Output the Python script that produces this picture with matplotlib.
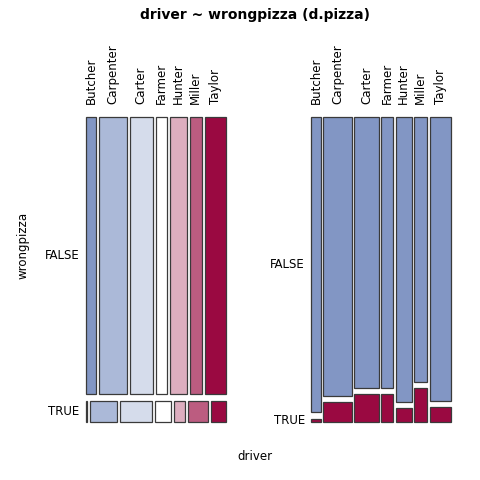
#!/usr/bin/env python3
import numpy as np
import matplotlib
matplotlib.use("Agg")
from matplotlib import pyplot as plt
from matplotlib.patches import Rectangle

drivers = ["Butcher", "Carpenter", "Carter", "Farmer", "Hunter", "Miller", "Taylor"]
levels = ["FALSE", "TRUE"]
n_false = [95, 254, 212, 106, 149, 111, 194]
n_true = [1, 18, 22, 11, 7, 14, 10]

driver_cols = ["#8296C4", "#ABB9D8", "#D5DCEB", "#FFFFFF", "#DDAEBF", "#BC5C80", "#9A0941"]
level_cols = ["#8296C4", "#9A0941"]
EDGE = "#3a3a3a"


def px_axes(fig, x0, y0, x1, y1):
    # pixel box (top-left origin) -> figure fraction axes
    W, H = fig.bbox.width, fig.bbox.height
    ax = fig.add_axes([x0 / W, 1 - y1 / H, (x1 - x0) / W, (y1 - y0) / H])
    ax.set_xlim(0, 1)
    ax.set_ylim(0, 1)
    ax.axis("off")
    return ax


def tile(ax, x, y, w, h, col):
    ax.add_patch(Rectangle((x, y), w, h, facecolor=col, edgecolor=EDGE, lw=0.9, clip_on=False))


def main():
    tab = np.array([n_false, n_true])  # rows = wrongpizza, cols = driver
    fig = plt.figure(figsize=(4.8, 4.8), dpi=100)
    fs = 8.5

    # left: rows by wrongpizza, then drivers within each row
    ax = px_axes(fig, 85.7, 117, 226, 421.7)
    gx, gy = 0.021, 0.023
    row_tot = tab.sum(axis=1)
    hts = (1 - gy) * row_tot / row_tot.sum()
    ytop = 1.0
    for i, lev in enumerate(levels):
        y0 = ytop - hts[i]
        widths = (1 - gx * (len(drivers) - 1)) * tab[i] / row_tot[i]
        x = 0.0
        for j in range(len(drivers)):
            tile(ax, x, y0, widths[j], hts[i], driver_cols[j])
            if i == 0:
                ax.annotate(drivers[j], (x + widths[j] / 2, 1), xycoords=("data", "axes fraction"),
                            xytext=(0, 13), textcoords="offset pixels", rotation=90,
                            ha="center", va="bottom", fontsize=fs)
            x += widths[j] + gx
        ax.annotate(lev, (0, y0 + hts[i] / 2), xytext=(-6, 0), textcoords="offset pixels",
                    ha="right", va="center", fontsize=fs)
        ytop = y0 - gy

    # right: spine plot, drivers as columns, wrongpizza stacked
    ax2 = px_axes(fig, 311, 117, 451, 421.7)
    gx, gy = 0.0167, 0.02
    col_tot = tab.sum(axis=0)
    widths = (1 - gx * (len(drivers) - 1)) * col_tot / col_tot.sum()
    x = 0.0
    for j in range(len(drivers)):
        hts = (1 - gy) * tab[:, j] / col_tot[j]
        ytop = 1.0
        for i in range(len(levels)):
            y0 = ytop - hts[i]
            tile(ax2, x, y0, widths[j], hts[i], level_cols[i])
            if j == 0:
                ax2.annotate(levels[i], (0, y0 + hts[i] / 2), xytext=(-6, 0),
                             textcoords="offset pixels", ha="right", va="center", fontsize=fs)
            ytop = y0 - gy
        ax2.annotate(drivers[j], (x + widths[j] / 2, 1), xycoords=("data", "axes fraction"),
                     xytext=(0, 13), textcoords="offset pixels", rotation=90,
                     ha="center", va="bottom", fontsize=fs)
        x += widths[j] + gx

    fig.text(255 / 480, 1 - 15 / 480, "driver ~ wrongpizza (d.pizza)", ha="center", va="center",
             fontsize=10, fontweight="bold")
    fig.text(255 / 480, 1 - 456 / 480, "driver", ha="center", va="center", fontsize=fs)
    fig.text(23 / 480, 1 - 245 / 480, "wrongpizza", ha="center", va="center", rotation=90, fontsize=fs)

    fig.savefig("out.png", dpi=100, facecolor="white")


if __name__ == "__main__":
    main()
